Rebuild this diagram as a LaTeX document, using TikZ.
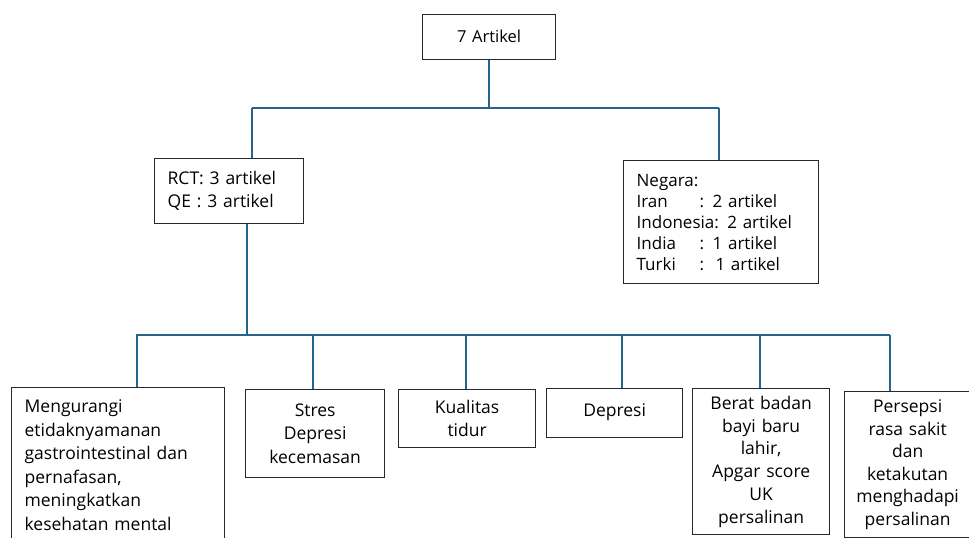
\documentclass[tikz,border=0pt]{standalone}
\usepackage{fontspec}
\setmainfont{Open Sans}
\usepackage{xcolor}
\usetikzlibrary{positioning}
\definecolor{linkblue}{RGB}{38,100,140}
\definecolor{boxgray}{RGB}{40,40,40}

\begin{document}
\begin{tikzpicture}[x=1pt,y=-1pt,
  box/.style={draw=boxgray, line width=1.3pt, fill=white, anchor=north west,
    inner xsep=13pt, inner ysep=0pt, font=\fontsize{17.5}{23.5}\selectfont},
  link/.style={draw=linkblue, line width=1.5pt}]
  \useasboundingbox (0,0) rectangle (969,538);

  % top level
  \node[box, text width=107pt, minimum height=45pt, align=center, font=\fontsize{16.5}{18}\selectfont] (top) at (422,14) {\raisebox{2pt}{7 Artikel}};

  \node[box, text width=123pt, minimum height=65pt, align=left, font=\fontsize{17.5}{23}\selectfont] (rct) at (154,158)
    {RCT: 3 artikel\\QE : 3 artikel};
  \node[box, text width=169pt, minimum height=123pt, align=left, font=\fontsize{17}{21}\selectfont] (neg) at (623,160)
    {Negara:\\\makebox[63pt][l]{Iran}: 2 artikel\\Indonesia: 2 artikel\\\makebox[63pt][l]{India}: 1 artikel\\\makebox[63pt][l]{Turki}:\ \ 1 artikel};

  % outcome boxes
  \node[box, text width=187pt, minimum height=155pt, align=left] (m1) at (11,387)
    {Mengurangi\\etidaknyamanan\\gastrointestinal dan\\pernafasan,\\meningkatkan\\kesehatan mental};
  \node[box, text width=113pt, minimum height=88pt, align=center] (m2) at (245,389)
    {Stres\\Depresi\\kecemasan};
  \node[box, text width=111pt, minimum height=58pt, align=center] (m3) at (398,389)
    {Kualitas\\tidur};
  \node[box, text width=110pt, minimum height=49pt, align=center] (m4) at (546,388)
    {\raisebox{6pt}{Depresi}};
  \node[box, text width=111pt, minimum height=146pt, align=center, font=\fontsize{17.5}{22.8}\selectfont] (m5) at (692,388)
    {Berat badan\\bayi baru\\lahir,\\Apgar score\\UK\\persalinan};
  \node[box, text width=112pt, inner xsep=7pt, minimum height=146pt, align=center, font=\fontsize{17.5}{22.5}\selectfont] (m6) at (844,391)
    {Persepsi\\rasa sakit\\dan\\ketakutan\\menghadapi\\persalinan};

  % upper bus
  \coordinate (jL) at (252,108);
  \coordinate (jR) at (719,108);
  \draw[link] (top.south) -- (top.south |- jL);
  \draw[link] (jL) -- (jR);
  \draw[link] (jL) -- (jL |- rct.north);
  \draw[link] (jR) -- (jR |- neg.north);

  % lower bus
  \coordinate (hub) at (247,335);
  \draw[link] (hub |- rct.south) -- (hub);
  \draw[link] (136,335) -- (890,335);
  \foreach \x/\b in {137/m1, 313/m2, 466/m3, 622/m4, 760/m5, 890/m6} {
    \coordinate (d) at (\x,335);
    \draw[link] (d) -- (d |- \b.north);
  }
\end{tikzpicture}
\end{document}
